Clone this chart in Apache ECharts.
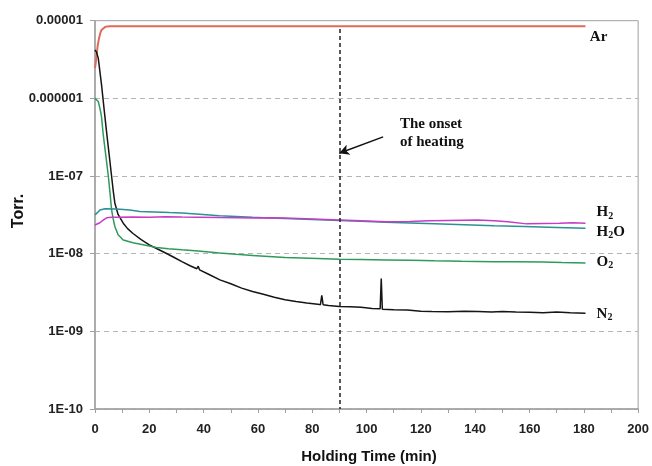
<!DOCTYPE html>
<html><head><meta charset="utf-8">
<script src="https://cdn.jsdelivr.net/npm/echarts@6/dist/echarts.min.js"></script>
<style>html,body{margin:0;padding:0;background:#fff}#c{width:652px;height:466px}</style>
</head><body><div id="c"></div>
<script>
// tick labels
const xTickLabels = ['0','20','40','60','80','100','120','140','160','180','200'];
const yTickLabels = ['1E-10','1E-09','1E-08','1E-07','0.000001','0.00001']; // exponents -10..-5

// series: [time (min), pressure (Torr)]
const arData = [[0,2.45e-6],[0.3,2.9e-6],[0.6,3.6e-6],[1.0,4.8e-6],[1.5,6.0e-6],[2.0,7.0e-6],[2.4,7.6e-6],[3.0,8.0e-6],[3.7,8.3e-6],[4.5,8.45e-6],[5.5,8.5e-6],[20,8.5e-6],[40,8.5e-6],[60,8.5e-6],[80,8.5e-6],[100,8.5e-6],[120,8.5e-6],[140,8.5e-6],[160,8.5e-6],[180.6,8.5e-6]];
const n2Data = [[0,4.2e-6],[0.6,3.9e-6],[1.2,3.3e-6],[2.4,1.5e-6],[3.4,7.0e-7],[4.3,3.6e-7],[5.2,1.9e-7],[6.1,1.0e-7],[6.7,6.5e-8],[7.3,4.5e-8],[8.5,3.2e-8],[10.4,2.47e-8],[12,2.1e-8],[14,1.82e-8],[17,1.52e-8],[20,1.3e-8],[23,1.15e-8],[26,1.02e-8],[29,9.0e-9],[32,7.9e-9],[35,7.0e-9],[37.5,6.4e-9],[38,6.9e-9],[38.5,6.2e-9],[42,5.4e-9],[46,4.6e-9],[50,4.1e-9],[54,3.6e-9],[58,3.25e-9],[62,3.0e-9],[66,2.75e-9],[70,2.55e-9],[74,2.42e-9],[78,2.32e-9],[82,2.24e-9],[83,2.2e-9],[83.5,2.9e-9],[84,2.2e-9],[86,2.15e-9],[90,2.09e-9],[94,2.07e-9],[98,2.04e-9],[102,1.97e-9],[105,1.95e-9],[105.4,4.8e-9],[105.8,1.93e-9],[110,1.9e-9],[115,1.88e-9],[120,1.82e-9],[124,1.8e-9],[130,1.79e-9],[136,1.82e-9],[141,1.8e-9],[146,1.78e-9],[150,1.8e-9],[155,1.77e-9],[160,1.76e-9],[165,1.74e-9],[170,1.77e-9],[175,1.73e-9],[180.6,1.71e-9]];
const o2Data = [[0,1.0e-6],[0.6,9.7e-7],[1.2,9.1e-7],[1.8,7.5e-7],[2.4,5.8e-7],[3.0,3.5e-7],[3.7,2.2e-7],[4.3,1.5e-7],[4.9,1.0e-7],[5.5,6.2e-8],[6.1,3.7e-8],[6.7,2.8e-8],[7.3,2.24e-8],[8.5,1.75e-8],[10.4,1.5e-8],[14,1.38e-8],[17.7,1.3e-8],[22.6,1.2e-8],[27,1.16e-8],[32,1.12e-8],[38,1.08e-8],[42,1.05e-8],[45.8,1.02e-8],[52,9.8e-9],[58,9.5e-9],[64,9.2e-9],[70,8.9e-9],[76,8.8e-9],[82,8.7e-9],[90,8.5e-9],[98,8.4e-9],[107,8.3e-9],[116,8.2e-9],[125,8.1e-9],[135,8.0e-9],[147,7.9e-9],[155,7.85e-9],[165,7.8e-9],[172,7.7e-9],[180.6,7.6e-9]];
const h2oData = [[0,3.16e-8],[1,3.4e-8],[1.8,3.66e-8],[3.7,3.78e-8],[8,3.76e-8],[12.8,3.66e-8],[16.5,3.5e-8],[22,3.45e-8],[27.4,3.38e-8],[32,3.33e-8],[38.5,3.23e-8],[45.8,3.08e-8],[52,3.02e-8],[58,2.95e-8],[64,2.89e-8],[70,2.83e-8],[80,2.75e-8],[90,2.68e-8],[98,2.61e-8],[107,2.54e-8],[116,2.48e-8],[125,2.42e-8],[136,2.35e-8],[147,2.29e-8],[158,2.24e-8],[170,2.18e-8],[180.6,2.13e-8]];
const h2Data = [[0,2.34e-8],[1.8,2.5e-8],[3,2.7e-8],[4.3,2.9e-8],[6,2.95e-8],[8,2.95e-8],[14,2.97e-8],[20,2.95e-8],[26,3.0e-8],[32,2.97e-8],[38,2.95e-8],[45.8,2.92e-8],[52,2.9e-8],[58,2.88e-8],[64,2.9e-8],[70,2.87e-8],[80,2.8e-8],[90,2.72e-8],[98,2.66e-8],[107,2.58e-8],[116,2.6e-8],[122.7,2.65e-8],[130,2.68e-8],[141,2.72e-8],[147,2.66e-8],[152,2.58e-8],[159,2.42e-8],[165,2.45e-8],[171,2.47e-8],[176,2.5e-8],[180.6,2.47e-8]];

// annotation anchors in data coordinates
const heatingTime = 90;
const heatingTop = 7.8e-6;
const arrowFrom = [106.1, 3.19e-7];
const arrowTo = [89.9, 1.96e-7];
const noteAnchor = [112.3, 3.59e-7];
const seriesLabels = [
  {main:'Ar', sub:'', tail:'', at:[182.2, 6.2e-6]},
  {main:'H', sub:'2', tail:'', at:[184.7, 3.38e-8]},
  {main:'H', sub:'2', tail:'O', at:[184.7, 1.92e-8]},
  {main:'O', sub:'2', tail:'', at:[184.7, 7.9e-9]},
  {main:'N', sub:'2', tail:'', at:[184.7, 1.68e-9]}
];

const chart = echarts.init(document.getElementById('c'), null, {renderer:'canvas'});
const sans = 'Liberation Sans, Arial, sans-serif';
const serif = 'Liberation Serif, Times New Roman, serif';

function line(name, data, color, width) {
  return {name, type:'line', data, showSymbol:false, symbol:'none', smooth:false,
    lineStyle:{color, width}, itemStyle:{color}, z:3};
}

const series = [
  line('Ar', arData, '#e06a58', 2),
  line('N2', n2Data, '#151515', 1.5),
  line('O2', o2Data, '#2e9a5c', 1.5),
  line('H2O', h2oData, '#2a9196', 1.5),
  line('H2', h2Data, '#c73cc4', 1.5)
];
series.push({
  type:'line', data:[], silent:true,
  markLine:{
    silent:true, animation:false, label:{show:false},
    data:[
      [{coord:[heatingTime, heatingTop], symbol:'none'}, {coord:[heatingTime, 1e-10], symbol:'none', lineStyle:{color:'#222', type:[4,3], width:1.5}}],
      [{coord:arrowFrom, symbol:'none'}, {coord:arrowTo, symbol:'arrow', symbolSize:[8,10], lineStyle:{color:'#111', type:'solid', width:1.5}}]
    ],
    lineStyle:{color:'#222', width:1.5}
  }
});

chart.setOption({
  animation:false,
  backgroundColor:'#fff',
  grid:{left:95, right:11, top:20.7, bottom:57, show:true, borderColor:'#a0a0a0', borderWidth:1},
  xAxis:{
    type:'value', min:0, max:200, interval:10,
    axisLine:{lineStyle:{color:'#a0a0a0', width:1.5}},
    axisTick:{show:true, length:4, lineStyle:{color:'#a0a0a0'}},
    splitLine:{show:false},
    axisLabel:{color:'#222', fontFamily:sans, fontWeight:'bold', fontSize:13, margin:14,
      formatter:v => xTickLabels.includes(String(v)) ? String(v) : ''}
  },
  yAxis:{
    type:'log', logBase:10, min:1e-10, max:1e-5,
    axisLine:{show:true, lineStyle:{color:'#a0a0a0', width:1.5}},
    axisTick:{show:true, length:5, lineStyle:{color:'#a0a0a0'}},
    minorTick:{show:false},
    splitLine:{show:true, lineStyle:{color:'#b4b4b4', type:[5,4], width:1}},
    axisLabel:{color:'#222', fontFamily:sans, fontWeight:'bold', fontSize:13, margin:12,
      formatter:v => yTickLabels[Math.round(Math.log10(v)) + 10]}
  },
  series
});

// texts placed via the chart's own scales
const ctx = document.createElement('canvas').getContext('2d');
function w(t, size) { ctx.font = 'bold ' + size + 'px ' + serif; return ctx.measureText(t).width; }
const graphics = [];
seriesLabels.forEach(l => {
  const p = chart.convertToPixel({gridIndex:0}, l.at);
  let x = p[0];
  graphics.push({type:'text', x, y:p[1], style:{text:l.main, font:'bold 15px ' + serif, fill:'#111', textVerticalAlign:'middle'}});
  x += w(l.main, 15);
  if (l.sub) {
    graphics.push({type:'text', x, y:p[1] + 4, style:{text:l.sub, font:'bold 10px ' + serif, fill:'#111', textVerticalAlign:'middle'}});
    x += w(l.sub, 10);
  }
  if (l.tail) {
    graphics.push({type:'text', x, y:p[1], style:{text:l.tail, font:'bold 15px ' + serif, fill:'#111', textVerticalAlign:'middle'}});
  }
});
const np = chart.convertToPixel({gridIndex:0}, noteAnchor);
graphics.push({type:'text', x:np[0], y:np[1], style:{text:'The onset\nof heating', font:'bold 15px ' + serif, lineHeight:18, fill:'#111', textVerticalAlign:'middle'}});
// axis titles
graphics.push({type:'text', x:369, y:457, style:{text:'Holding Time (min)', font:'bold 15px ' + sans, fill:'#111', textAlign:'center', textVerticalAlign:'middle'}});
graphics.push({type:'text', x:19, y:211, rotation:Math.PI/2, style:{text:'Torr.', font:'bold 16px ' + sans, fill:'#111', textAlign:'center', textVerticalAlign:'middle'}});
chart.setOption({graphic:graphics});
</script>
</body></html>
